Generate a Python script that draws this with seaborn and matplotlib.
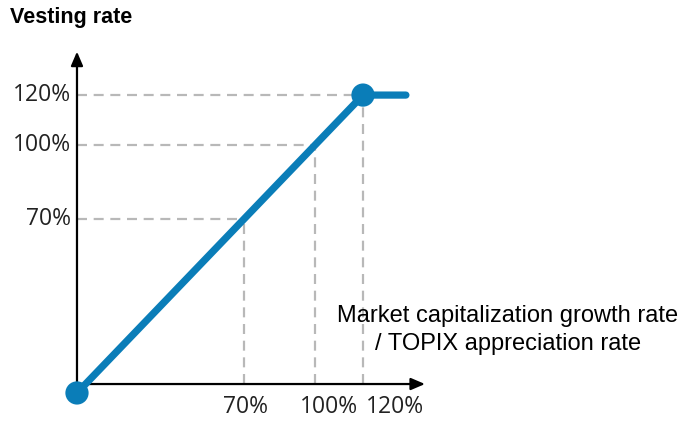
import matplotlib
matplotlib.use("Agg")
import matplotlib.pyplot as plt
import seaborn as sns
import pandas as pd

# Data
growth_rate = [0, 120, 138]          # x: market cap growth / TOPIX appreciation (%)
vesting_rate = [0, 120, 120]         # y: vesting rate (%)
marker_x = [0, 120]
marker_y = [0, 120]
tick_values = [70, 100, 120]
tick_labels = ["70%", "100%", "120%"]

sns.set_theme(style="white")
plt.rcParams['font.family'] = ['Liberation Sans', 'DejaVu Sans']

fig = plt.figure(figsize=(6.8, 4.23), dpi=100)
ax = fig.add_axes([0, 0, 1, 1])
ax.set_xlim(-32.3, 253.0)
ax.set_ylim(-12.1, 158.3)
ax.axis("off")

blue = "#0a7db8"
grid_c = "#b8b8b8"
axis_y0 = 3.6

# dashed guide lines
for v in tick_values:
    ax.plot([0, v], [v, v], ls=(0, (4.5, 3)), color=grid_c, lw=1.6, zorder=1)
    ax.plot([v, v], [axis_y0, v], ls=(0, (4.5, 3)), color=grid_c, lw=1.6, zorder=1)

# axes with arrows
ax.annotate("", xy=(0, 137.5), xytext=(0, axis_y0 - 0.5),
            arrowprops=dict(arrowstyle="-|>,head_length=0.7,head_width=0.3", color="black", lw=1.6,
                            shrinkA=0, shrinkB=0), zorder=2)
ax.annotate("", xy=(146, axis_y0), xytext=(-0.5, axis_y0),
            arrowprops=dict(arrowstyle="-|>,head_length=0.7,head_width=0.3", color="black", lw=1.6,
                            shrinkA=0, shrinkB=0), zorder=2)

df = pd.DataFrame({"x": growth_rate, "y": vesting_rate})
sns.lineplot(data=df, x="x", y="y", ax=ax, color=blue, lw=5.2, sort=False, zorder=3)
sns.scatterplot(x=marker_x, y=marker_y, ax=ax, color=blue, s=280, edgecolor="none", zorder=4)

# tick labels
x_label_offsets_pt = [1, 10, 23]
tick_font = dict(fontsize=16.5, color="#222222", family=["Open Sans", "DejaVu Sans"])
for v, lab, off in zip(tick_values, tick_labels, x_label_offsets_pt):
    ax.annotate(lab, xy=(0, v), xytext=(-4.5, 0), textcoords="offset points",
                ha="right", va="center", **tick_font)
    ax.annotate(lab, xy=(v, axis_y0), xytext=(off, -8), textcoords="offset points",
                ha="center", va="top", **tick_font)

fig.text(10 / 680, 1 - 18 / 423, "Vesting rate", ha="left", va="center",
         fontsize=15.5, fontweight="bold", color="black")
fig.text(508 / 680, 1 - 330 / 423, "Market capitalization growth rate\n/ TOPIX appreciation rate",
         ha="center", va="center", fontsize=17, color="black", linespacing=1.3)

fig.savefig("out.png", dpi=100)
